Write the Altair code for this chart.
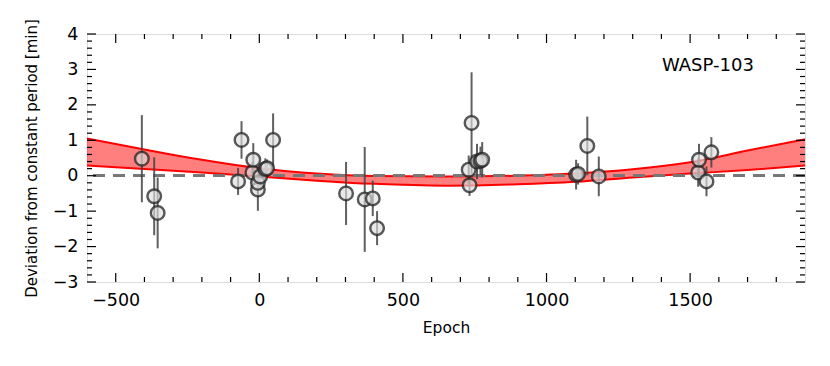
import altair as alt
import pandas as pd

# --- data ---
epoch = [-409, -366, -354, -74, -62, -24, -21, -5, -5, 3, 21, 27, 48,
         302, 367, 395, 410, 729, 732, 739, 758, 770, 776,
         1103, 1110, 1142, 1182, 1528, 1531, 1557, 1574]
deviation = [0.48, -0.58, -1.05, -0.16, 1.01, 0.09, 0.45, -0.39, -0.20, -0.02, 0.19, 0.21, 1.01,
             -0.50, -0.67, -0.64, -1.48, 0.17, -0.27, 1.49, 0.40, 0.42, 0.45,
             0.03, 0.05, 0.84, -0.02, 0.09, 0.45, -0.16, 0.66]
error = [1.23, 1.10, 1.00, 0.38, 0.53, 0.30, 0.47, 0.60, 0.35, 0.30, 0.30, 0.25, 0.75,
         0.89, 1.48, 0.50, 0.48, 0.40, 0.30, 1.43, 0.50, 0.40, 0.50,
         0.42, 0.30, 0.83, 0.56, 0.40, 0.45, 0.42, 0.43]

band_epoch = [-600, -400, -200, 0, 200, 400, 650, 900, 1100, 1300, 1500, 1700, 1900]
band_upper = [1.05, 0.74, 0.45, 0.21, 0.06, -0.01, -0.02, 0.00, 0.06, 0.18, 0.38, 0.71, 1.03]
band_lower = [0.29, 0.19, 0.09, -0.02, -0.14, -0.23, -0.28, -0.24, -0.17, -0.05, 0.06, 0.16, 0.29]

x_major = [-500, 0, 500, 1000, 1500]
x_minor = [-400, -300, -200, -100, 100, 200, 300, 400, 600, 700, 800, 900,
           1100, 1200, 1300, 1400, 1600, 1700, 1800]
y_major = [-3, -2, -1, 0, 1, 2, 3, 4]
y_minor = [-2.8, -2.6, -2.4, -2.2, -1.8, -1.6, -1.4, -1.2, -0.8, -0.6, -0.4, -0.2,
           0.2, 0.4, 0.6, 0.8, 1.2, 1.4, 1.6, 1.8, 2.2, 2.4, 2.6, 2.8,
           3.2, 3.4, 3.6, 3.8]

label_text = ["WASP-103"]
label_epoch = [1562]
label_dev = [3.09]

W, H = 718, 248
FONT = "DejaVu Sans"

pts = pd.DataFrame({"epoch": epoch, "dev": deviation, "err": error})
band = pd.DataFrame({"epoch": band_epoch, "upper": band_upper, "lower": band_lower})
xt_major = pd.DataFrame({"epoch": x_major})
xt_minor = pd.DataFrame({"epoch": x_minor})
yt_major = pd.DataFrame({"dev": y_major})
yt_minor = pd.DataFrame({"dev": y_minor})
lab = pd.DataFrame({"epoch": label_epoch, "dev": label_dev, "text": label_text})

xscale = alt.Scale(domain=[-600, 1900], nice=False, zero=False)
yscale = alt.Scale(domain=[-3, 4], nice=False, zero=False)
XAX = alt.Axis(title="Epoch", values=x_major, format="d", ticks=False, grid=False, domain=False,
               labelFontSize=17.5, labelPadding=9, titleFontSize=15.5, titleFontWeight="normal",
               titlePadding=12, labelFont=FONT, titleFont=FONT, labelColor="black",
               titleColor="black", labelFlush=False)
YAX = alt.Axis(title="Deviation from constant period [min]", values=y_major, format="d",
               ticks=False, grid=False, domain=False, labelFontSize=17.5, labelPadding=9,
               titleFontSize=15, titleFontWeight="normal", titlePadding=13,
               labelFont=FONT, titleFont=FONT, labelColor="black", titleColor="black",
               labelFlush=False)


def X(field="epoch"):
    return alt.X(f"{field}:Q", scale=xscale, axis=XAX)


def Y(field="dev"):
    return alt.Y(f"{field}:Q", scale=yscale, axis=YAX)


area = alt.Chart(band).mark_area(color="#ff0000", opacity=0.5, interpolate="monotone").encode(
    x=X(), y=Y("lower"), y2="upper:Q")
up_line = alt.Chart(band).mark_line(color="#ff0000", strokeWidth=2, interpolate="monotone").encode(
    x=X(), y=Y("upper"))
lo_line = alt.Chart(band).mark_line(color="#ff0000", strokeWidth=2, interpolate="monotone").encode(
    x=X(), y=Y("lower"))
zero = alt.Chart(band).mark_rule(color="#777777", strokeWidth=2, strokeDash=[12, 8]).encode(
    y=alt.Y(datum=0, scale=yscale, axis=YAX))

bars = alt.Chart(pts).transform_calculate(
    lo="datum.dev - datum.err", hi="datum.dev + datum.err"
).mark_rule(color="#444444", opacity=0.85, strokeWidth=2).encode(
    x=X(), y=Y("lo"), y2="hi:Q")
dots = alt.Chart(pts).mark_point(shape="circle", filled=True, size=185, fill="#dddddd",
                                 fillOpacity=0.65, stroke="#222222", strokeOpacity=0.75,
                                 strokeWidth=2.4).encode(x=X(), y=Y())

TK = dict(color="black", strokeWidth=1.2)
ticks = [
    alt.Chart(xt_major).mark_rule(**TK).encode(x=X(), y=alt.value(H), y2=alt.value(H - 9)),
    alt.Chart(xt_major).mark_rule(**TK).encode(x=X(), y=alt.value(0), y2=alt.value(9)),
    alt.Chart(xt_minor).mark_rule(**TK).encode(x=X(), y=alt.value(H), y2=alt.value(H - 5)),
    alt.Chart(xt_minor).mark_rule(**TK).encode(x=X(), y=alt.value(0), y2=alt.value(5)),
    alt.Chart(yt_major).mark_rule(**TK).encode(y=Y(), x=alt.value(0), x2=alt.value(9)),
    alt.Chart(yt_major).mark_rule(**TK).encode(y=Y(), x=alt.value(W), x2=alt.value(W - 9)),
    alt.Chart(yt_minor).mark_rule(**TK).encode(y=Y(), x=alt.value(0), x2=alt.value(5)),
    alt.Chart(yt_minor).mark_rule(**TK).encode(y=Y(), x=alt.value(W), x2=alt.value(W - 5)),
]

text = alt.Chart(lab).mark_text(font=FONT, fontSize=18, color="black", align="center",
                                baseline="middle").encode(x=X(), y=Y(), text="text:N")

chart = alt.layer(area, up_line, lo_line, zero, bars, dots, *ticks, text).properties(
    width=W, height=H,
    autosize=alt.AutoSizeParams(type="none"),
    padding={"left": 79, "top": 26, "right": 17, "bottom": 60},
).configure_view(stroke="black", strokeWidth=2).configure(background="white")

chart.save("out.html", embed_options={"renderer": "svg", "actions": False})
